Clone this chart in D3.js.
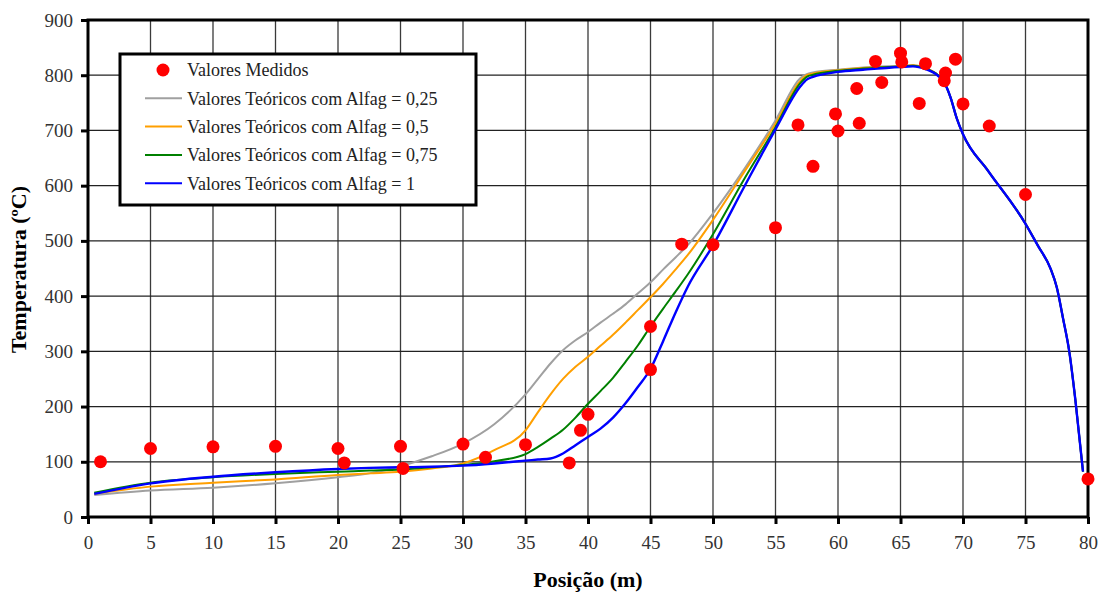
<!DOCTYPE html>
<html>
<head>
<meta charset="utf-8">
<script src="https://cdn.jsdelivr.net/npm/d3@7"></script>
<style>
  body { margin: 0; background: #fff; }
  text { font-family: "Liberation Serif", "Times New Roman", serif; }
</style>
</head>
<body>
<script>
// posições ao longo do forno (m)
var posicoes = [0.5, 5, 10, 15, 20, 22.5, 25, 27.5, 30, 32.5, 35, 36, 37, 38, 39, 40, 41, 42, 43, 44, 45, 46, 47, 48, 50, 52.5, 55, 57, 57.5, 58, 60, 62, 65, 66, 67, 68, 68.5, 69, 69.5, 70, 72, 75, 76, 77, 77.5, 78, 78.5, 79, 79.6];

// final da curva, igual para todos os alfas
var cauda = [787, 760, 722, 693, 627, 531, 491, 450, 416, 360, 300, 210, 82];

var alfa025 = [40, 48, 53, 61, 72, 79, 92, 110, 133, 168, 222, 250, 278, 302, 320, 335, 352, 368, 385, 405, 425, 448, 470, 493, 550, 630, 718, 795, 802, 805, 810, 814, 817, 818, 813, 800].concat(cauda);
var alfa05 = [42, 55, 62, 68, 76, 79, 82, 88, 97, 121, 157, 190, 222, 250, 272, 290, 310, 330, 352, 375, 398, 422, 448, 475, 538, 625, 712, 790, 800, 803, 809, 813, 816, 818, 813, 800].concat(cauda);
var alfa075 = [44, 62, 72, 78, 82, 84, 86, 90, 94, 101, 114, 127, 142, 158, 180, 205, 228, 252, 281, 311, 345, 377, 408, 440, 512, 612, 706, 786, 797, 801, 808, 812, 816, 817, 812, 800].concat(cauda);
var alfa1 = [42, 61, 73, 81, 87, 89, 90, 91, 93, 97, 102, 104, 106, 115, 130, 145, 160, 180, 206, 236, 268, 318, 370, 418, 492, 598, 702, 780, 792, 797, 806, 810, 815, 816, 811, 799].concat(cauda);

// valores medidos
var medidosX = [1, 5, 10, 15, 20, 20.5, 25, 25.2, 30, 31.8, 35, 38.5, 39.4, 40, 45, 45, 47.5, 50, 55, 56.8, 58, 59.8, 60, 61.5, 61.7, 63, 63.5, 65, 65.1, 66.5, 67, 68.5, 68.6, 69.4, 70, 72.1, 75, 80];
var medidosY = [100, 124, 127, 128, 124, 98, 128, 88, 132, 108, 131, 98, 157, 186, 345, 267, 494, 493, 524, 710, 635, 730, 699, 776, 713, 825, 787, 840, 824, 749, 821, 790, 804, 829, 748, 708, 584, 69];

var xTicks = [0, 5, 10, 15, 20, 25, 30, 35, 40, 45, 50, 55, 60, 65, 70, 75, 80];
var yTicks = [0, 100, 200, 300, 400, 500, 600, 700, 800, 900];

var series = [
  {nome: "Valores Teóricos com Alfag = 0,25", valores: alfa025, cor: "#a0a0a0"},
  {nome: "Valores Teóricos com Alfag = 0,5", valores: alfa05, cor: "#ff9f00"},
  {nome: "Valores Teóricos com Alfag = 0,75", valores: alfa075, cor: "#008000"},
  {nome: "Valores Teóricos com Alfag = 1", valores: alfa1, cor: "#0000ff"}
];

var fonte = "'Liberation Serif', 'Times New Roman', serif";

var width = 1100,
    height = 596;
var margin = {top: 20, right: 12, bottom: 79, left: 88};
var w = width - margin.left - margin.right,
    h = height - margin.top - margin.bottom;

var svg = d3.select("body").append("svg")
    .attr("width", width)
    .attr("height", height);

var g = svg.append("g")
    .attr("transform", "translate(" + margin.left + "," + margin.top + ")");

var x = d3.scaleLinear().domain([0, 80]).range([0, w]);
var y = d3.scaleLinear().domain([0, 900]).range([h, 0]);

// grade
g.append("g")
    .selectAll("line")
    .data(xTicks)
    .enter().append("line")
    .attr("x1", d => x(d)).attr("x2", d => x(d))
    .attr("y1", 0).attr("y2", h)
    .style("stroke", "#3a3a3a")
    .style("stroke-width", 1.3);

g.append("g")
    .selectAll("line")
    .data(yTicks)
    .enter().append("line")
    .attr("x1", 0).attr("x2", w)
    .attr("y1", d => y(d)).attr("y2", d => y(d))
    .style("stroke", "#222")
    .style("stroke-width", 1.3);

// eixos
var xAxis = g.append("g")
    .attr("transform", "translate(0," + h + ")")
    .call(d3.axisBottom(x).tickValues(xTicks).tickSize(7).tickPadding(12));
var yAxis = g.append("g")
    .call(d3.axisLeft(y).tickValues(yTicks).tickSize(7).tickPadding(8));

[xAxis, yAxis].forEach(function(a) {
  a.attr("font-family", fonte).attr("font-size", 19);
  a.select(".domain").remove();
  a.selectAll(".tick line").style("stroke", "#000").style("stroke-width", 3);
  a.selectAll(".tick text")
    .style("font-family", fonte)
    .style("font-size", "19px")
    .style("fill", "#333");
});

// moldura
g.append("rect")
    .attr("x", 0).attr("y", 0)
    .attr("width", w).attr("height", h)
    .style("fill", "none")
    .style("stroke", "#000")
    .style("stroke-width", 3);

// curvas teóricas
var linha = d3.line()
    .x((d, i) => x(posicoes[i]))
    .y(d => y(d))
    .curve(d3.curveMonotoneX);

series.forEach(function(s) {
  g.append("path")
    .datum(s.valores)
    .attr("d", linha)
    .style("fill", "none")
    .style("stroke", s.cor)
    .style("stroke-width", s.cor == "#0000ff" ? 2.4 : 2);
});

// pontos medidos
g.append("g")
    .selectAll("circle")
    .data(medidosX)
    .enter().append("circle")
    .attr("cx", d => x(d))
    .attr("cy", (d, i) => y(medidosY[i]))
    .attr("r", 6.5)
    .style("fill", "#ff0000");

// legenda
var leg = svg.append("g").attr("transform", "translate(120,54)");
leg.append("rect")
    .attr("width", 356).attr("height", 151)
    .style("fill", "#fff")
    .style("stroke", "#000")
    .style("stroke-width", 3);

var linhasLeg = [{nome: "Valores Medidos", cor: "#ff0000", ponto: true}].concat(series);
var item = leg.selectAll(".item")
    .data(linhasLeg)
    .enter().append("g")
    .attr("transform", (d, i) => "translate(0," + (16 + i * 28.3) + ")");

item.each(function(d) {
  var el = d3.select(this);
  if (d.ponto) {
    el.append("circle").attr("cx", 43).attr("cy", 0).attr("r", 6.5).style("fill", d.cor);
  } else {
    el.append("line").attr("x1", 25).attr("x2", 62).attr("y1", 0).attr("y2", 0)
      .style("stroke", d.cor).style("stroke-width", 2);
  }
});

item.append("text")
    .attr("x", 67)
    .attr("dy", "0.35em")
    .text(d => d.nome)
    .style("font-size", "18px")
    .style("fill", "#222");

// títulos dos eixos
svg.append("text")
    .attr("transform", "translate(26," + (margin.top + h / 2 + 1) + ") rotate(-90)")
    .attr("text-anchor", "middle")
    .style("font-size", "22px")
    .style("font-weight", "bold")
    .text("Temperatura (ºC)");

svg.append("text")
    .attr("x", margin.left + w / 2)
    .attr("y", 587)
    .attr("text-anchor", "middle")
    .style("font-size", "22px")
    .style("font-weight", "bold")
    .text("Posição (m)");
</script>
</body>
</html>
